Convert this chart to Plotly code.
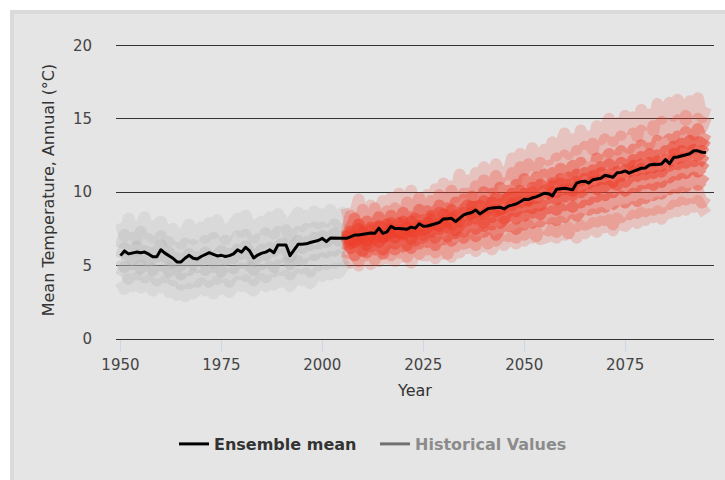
import plotly.graph_objects as go

# ---------------- data ----------------
years_mean = list(range(1950, 2096))
years_hist = list(range(1950, 2007))
years_proj = list(range(2006, 2096))

ensemble_mean = [
    5.68, 6.00, 5.80, 5.85, 5.92, 5.88, 5.92, 5.78, 5.60, 5.60,
    6.08, 5.85, 5.68, 5.50, 5.25, 5.25, 5.50, 5.70, 5.50, 5.45,
    5.62, 5.75, 5.88, 5.77, 5.66, 5.70, 5.62, 5.68, 5.80, 6.07,
    5.92, 6.25, 6.00, 5.52, 5.72, 5.85, 5.92, 6.07, 5.88, 6.40,
    6.42, 6.40, 5.68, 6.05, 6.45, 6.46, 6.48, 6.57, 6.62, 6.71,
    6.86, 6.63, 6.88, 6.86, 6.86, 6.86, 6.86, 6.95, 7.08, 7.08,
    7.12, 7.18, 7.22, 7.20, 7.55, 7.20, 7.30, 7.68, 7.52, 7.52,
    7.50, 7.48, 7.62, 7.55, 7.85, 7.68, 7.70, 7.75, 7.85, 7.95,
    8.18, 8.20, 8.22, 8.00, 8.25, 8.45, 8.55, 8.62, 8.79, 8.52,
    8.70, 8.88, 8.92, 8.95, 8.98, 8.86, 9.05, 9.12, 9.20, 9.35,
    9.52, 9.50, 9.62, 9.68, 9.82, 9.93, 9.90, 9.75, 10.20, 10.24,
    10.27, 10.22, 10.16, 10.62, 10.72, 10.75, 10.62, 10.85, 10.88, 10.95,
    11.15, 11.07, 11.02, 11.32, 11.35, 11.45, 11.30, 11.42, 11.55, 11.63,
    11.65, 11.85, 11.90, 11.88, 11.92, 12.22, 11.95, 12.36, 12.40, 12.47,
    12.52, 12.62, 12.82, 12.82, 12.72, 12.70,
]

# historical ensemble members (1950-2006)
hist_p = [7.9, 7.0, 8.2, 7.4, 6.8, 7.7, 8.3, 7.1, 6.9, 7.8,
          8.0, 7.2, 6.7, 7.5, 6.9, 6.5, 7.3, 7.8, 6.8, 7.1,
          7.6, 6.9, 7.9, 7.2, 8.1, 7.4, 6.8, 7.5, 7.9, 8.2,
          7.3, 8.4, 7.6, 6.9, 7.8, 8.0, 7.4, 8.3, 7.2, 8.5,
          8.1, 7.6, 7.0, 8.2, 8.6, 7.7, 8.4, 8.0, 8.7, 7.9,
          8.5, 8.0, 8.8, 8.3, 7.9, 8.6, 8.2]
hist_q = [6.2, 7.1, 6.5, 6.9, 6.0, 7.3, 6.4, 6.8, 6.1, 6.6,
          7.0, 6.3, 6.6, 5.9, 6.2, 5.8, 6.5, 6.1, 6.4, 5.7,
          6.3, 6.7, 6.0, 6.9, 6.4, 6.2, 6.7, 6.0, 6.5, 7.0,
          6.6, 7.1, 6.3, 6.0, 6.8, 6.5, 7.2, 6.7, 6.4, 7.3,
          7.0, 7.4, 6.4, 6.8, 7.3, 6.9, 7.5, 7.1, 7.6, 7.2,
          7.6, 7.0, 7.4, 7.8, 7.2, 7.5, 7.3]
hist_r = [5.5, 6.2, 5.8, 5.4, 6.3, 5.7, 6.0, 5.3, 5.9, 5.6,
          6.4, 5.6, 5.9, 5.2, 5.5, 5.0, 5.4, 5.8, 5.1, 5.6,
          5.3, 5.9, 5.6, 5.2, 5.7, 6.0, 5.4, 5.8, 5.5, 6.1,
          5.8, 6.3, 5.9, 5.3, 5.6, 6.1, 5.7, 6.2, 6.0, 6.4,
          6.5, 6.1, 5.6, 6.3, 6.7, 6.2, 6.6, 6.4, 6.9, 6.5,
          7.0, 6.6, 6.8, 7.2, 6.7, 7.0, 6.9]
hist_s = [5.4, 4.9, 5.6, 5.1, 5.7, 4.8, 5.3, 5.5, 4.7, 5.2,
          5.0, 5.6, 4.6, 5.2, 4.8, 4.4, 5.0, 4.7, 5.3, 4.9,
          5.1, 4.7, 5.4, 4.9, 5.2, 4.6, 5.0, 5.3, 4.8, 5.5,
          5.2, 5.6, 5.0, 4.7, 5.4, 5.1, 5.7, 5.3, 4.9, 5.8,
          5.6, 5.9, 5.1, 5.5, 6.0, 5.4, 5.8, 6.1, 5.7, 6.2,
          6.3, 5.9, 6.4, 6.0, 6.5, 6.2, 6.1]
hist_t = [4.3, 4.9, 4.1, 4.7, 4.4, 5.0, 4.2, 4.6, 4.8, 4.0,
          4.6, 4.2, 4.9, 4.0, 4.3, 3.7, 4.1, 3.8, 4.4, 3.9,
          4.2, 4.6, 3.9, 4.5, 4.1, 4.7, 4.3, 3.9, 4.6, 4.4,
          4.8, 4.3, 4.9, 4.0, 4.5, 4.7, 4.2, 4.9, 4.6, 5.0,
          4.7, 5.2, 4.4, 4.9, 5.3, 4.8, 5.1, 4.6, 5.4, 5.0,
          5.5, 5.1, 5.6, 5.2, 5.7, 5.3, 5.5]
hist_u = [3.9, 3.4, 4.1, 3.6, 4.2, 3.5, 3.8, 4.0, 3.3, 3.7,
          3.5, 3.9, 3.2, 3.6, 3.0, 3.3, 2.9, 3.4, 3.1, 3.5,
          3.8, 3.3, 3.6, 3.1, 3.9, 3.4, 3.7, 3.2, 3.5, 3.9,
          3.6, 4.0, 3.5, 3.3, 3.8, 4.1, 3.6, 4.0, 3.7, 4.2,
          3.9, 4.3, 3.6, 4.1, 4.4, 4.0, 4.5, 3.8, 4.2, 4.6,
          4.3, 4.7, 4.4, 4.8, 4.5, 4.9, 4.6]

# projected ensemble members (2006-2095)
proj_1 = [8.9, 7.6, 8.4, 9.5, 7.9, 8.7, 9.1, 7.8, 8.8, 9.4,
          8.0, 9.6, 8.7, 9.9, 8.3, 9.2, 10.1, 8.6, 9.5, 8.9,
          9.8, 8.6, 10.2, 9.4, 10.6, 9.0, 10.4, 9.7, 11.2, 10.0,
          10.8, 9.7, 11.3, 10.4, 11.7, 10.6, 10.2, 11.9, 10.9, 11.4,
          11.2, 12.3, 10.8, 12.6, 11.5, 12.1, 13.0, 11.7, 12.4, 12.9,
          12.2, 13.4, 12.5, 13.1, 14.0, 12.6, 13.6, 12.9, 14.2, 13.3,
          13.8, 12.9, 14.5, 13.6, 14.1, 15.0, 13.5, 14.7, 13.9, 15.2,
          14.3, 15.1, 13.8, 15.6, 14.6, 15.3, 14.2, 16.0, 15.0, 15.5,
          16.1, 15.2, 16.3, 15.6, 14.9, 16.2, 15.5, 16.4, 15.1, 15.8]
proj_2 = [7.2, 8.4, 7.9, 7.4, 8.8, 7.6, 8.2, 8.9, 7.5, 8.1,
          8.7, 7.6, 8.9, 8.3, 7.8, 9.3, 8.1, 8.8, 9.6, 8.0,
          8.3, 9.4, 8.9, 9.8, 8.5, 9.2, 10.1, 8.8, 9.6, 9.9,
          9.9, 9.1, 10.4, 9.6, 10.8, 9.5, 10.2, 11.1, 9.8, 10.6,
          10.2, 11.3, 10.6, 11.7, 10.8, 11.9, 11.1, 10.7, 12.0, 11.4,
          11.8, 11.0, 12.3, 11.6, 12.5, 11.9, 11.3, 12.8, 12.2, 13.1,
          12.5, 13.3, 12.4, 13.0, 13.6, 12.7, 13.4, 12.9, 13.8, 13.2,
          13.0, 14.0, 13.4, 14.2, 13.6, 13.3, 14.5, 13.9, 14.8, 14.1,
          14.6, 13.7, 14.9, 14.3, 15.2, 14.5, 13.9, 15.0, 14.4, 15.1]
proj_3 = [6.9, 7.7, 8.2, 6.8, 7.5, 8.0, 7.1, 7.9, 8.3, 7.0,
          7.6, 8.4, 7.3, 8.1, 8.6, 7.5, 8.3, 7.7, 8.8, 8.2,
          8.7, 7.9, 8.5, 9.1, 8.2, 8.9, 8.4, 9.3, 8.6, 9.5,
          8.8, 9.7, 9.2, 8.9, 10.0, 9.4, 9.9, 9.3, 10.3, 9.6,
          10.1, 9.6, 10.5, 10.0, 10.9, 10.3, 9.9, 11.0, 10.6, 11.2,
          10.5, 11.3, 10.9, 11.6, 10.7, 11.4, 11.8, 11.1, 12.0, 11.5,
          11.7, 11.2, 12.3, 11.8, 12.1, 12.6, 11.9, 12.4, 12.8, 12.2,
          12.0, 12.9, 12.5, 13.2, 12.7, 13.0, 12.4, 13.5, 12.9, 13.4,
          13.6, 12.9, 13.8, 13.4, 14.1, 13.3, 13.9, 14.3, 13.5, 14.0]
proj_4 = [7.4, 6.7, 7.0, 7.8, 6.9, 7.3, 7.6, 6.8, 7.7, 7.4,
          7.1, 7.9, 7.5, 7.2, 8.0, 7.7, 7.3, 8.2, 7.6, 8.1,
          7.9, 8.4, 7.8, 8.6, 8.3, 8.0, 8.8, 8.2, 8.5, 9.0,
          9.1, 8.5, 9.0, 8.7, 9.4, 8.9, 9.2, 9.6, 8.8, 9.5,
          9.3, 9.9, 9.5, 10.1, 9.8, 9.4, 10.3, 10.0, 10.5, 10.2,
          10.1, 10.6, 10.3, 10.9, 10.5, 11.0, 10.4, 11.2, 10.8, 11.3,
          11.0, 11.5, 11.2, 11.7, 11.3, 11.9, 11.4, 11.6, 12.0, 11.8,
          11.7, 12.2, 11.8, 12.4, 12.0, 12.6, 12.1, 12.5, 12.3, 12.8,
          12.6, 13.1, 12.8, 13.3, 12.9, 13.5, 13.0, 13.4, 13.2, 13.6]
proj_5 = [6.8, 7.3, 6.6, 7.5, 7.0, 6.7, 7.4, 7.1, 7.6, 6.9,
          7.8, 7.2, 7.6, 7.9, 7.1, 7.5, 8.0, 7.3, 7.7, 7.4,
          7.6, 8.2, 7.9, 7.7, 8.5, 8.1, 7.8, 8.4, 8.0, 8.6,
          8.4, 9.0, 8.6, 9.1, 8.5, 8.8, 9.3, 8.7, 9.2, 8.9,
          9.6, 9.1, 9.7, 9.3, 9.9, 9.5, 10.0, 9.6, 9.8, 10.1,
          9.9, 10.4, 10.0, 10.6, 10.2, 10.5, 10.1, 10.7, 10.3, 10.9,
          10.6, 11.1, 10.8, 11.3, 10.9, 11.2, 10.7, 11.4, 11.1, 11.5,
          11.4, 11.8, 11.5, 11.9, 11.6, 12.0, 11.7, 12.1, 11.8, 12.2,
          12.1, 12.6, 12.3, 12.8, 12.4, 12.7, 12.9, 12.5, 12.8, 12.6]
proj_6 = [7.2, 6.5, 7.0, 6.7, 7.3, 6.4, 6.9, 7.1, 6.6, 7.2,
          7.0, 7.5, 6.9, 7.4, 7.2, 7.6, 6.8, 7.3, 7.7, 7.1,
          7.9, 7.3, 7.8, 7.5, 8.0, 7.6, 8.2, 7.4, 7.9, 8.1,
          8.1, 8.6, 8.2, 8.4, 7.9, 8.7, 8.3, 8.8, 8.5, 8.2,
          8.8, 9.2, 8.7, 9.3, 9.0, 9.4, 8.9, 9.5, 9.1, 9.6,
          9.6, 10.0, 9.5, 10.1, 9.7, 10.2, 9.8, 10.4, 10.0, 10.3,
          10.3, 10.7, 10.2, 10.8, 10.4, 10.9, 10.6, 10.5, 11.0, 10.7,
          11.0, 11.4, 11.1, 11.6, 11.2, 11.5, 11.3, 11.7, 11.4, 11.8,
          11.8, 12.2, 11.9, 12.3, 12.0, 12.4, 12.1, 12.3, 12.2, 12.0]
proj_7 = [6.9, 6.2, 6.7, 6.4, 6.0, 6.8, 6.3, 6.9, 6.5, 6.1,
          6.6, 7.2, 6.5, 7.0, 6.8, 6.4, 7.3, 6.7, 7.1, 6.9,
          7.1, 7.6, 6.9, 7.4, 7.8, 7.0, 7.5, 7.2, 7.9, 7.3,
          7.6, 8.2, 7.5, 8.0, 7.7, 8.3, 7.8, 8.4, 7.9, 8.1,
          8.3, 8.7, 8.2, 8.8, 8.4, 8.9, 8.6, 9.0, 8.5, 9.1,
          8.9, 9.4, 8.8, 9.5, 9.1, 9.6, 9.0, 9.7, 9.3, 9.8,
          9.5, 10.1, 9.7, 10.3, 9.8, 10.4, 10.0, 10.2, 10.6, 10.1,
          10.3, 10.8, 10.4, 10.9, 10.6, 11.0, 10.5, 11.1, 10.7, 11.2,
          11.0, 11.5, 11.2, 11.7, 11.3, 11.6, 11.8, 11.4, 11.7, 11.5]
proj_8 = [6.0, 6.6, 5.7, 6.4, 6.8, 5.9, 6.5, 6.1, 6.9, 5.8,
          6.4, 6.9, 6.1, 6.7, 6.3, 7.0, 6.2, 6.8, 6.5, 7.1,
          6.6, 7.2, 6.4, 7.3, 6.8, 7.5, 6.7, 7.1, 7.4, 6.9,
          7.2, 7.7, 7.0, 7.8, 7.3, 7.5, 7.9, 7.1, 7.6, 8.0,
          7.7, 8.2, 7.5, 8.3, 7.8, 8.4, 7.9, 8.5, 8.0, 8.6,
          8.2, 8.7, 8.1, 8.9, 8.3, 8.6, 9.0, 8.4, 8.8, 9.1,
          8.8, 9.3, 8.9, 9.5, 9.0, 9.6, 9.2, 9.4, 9.7, 9.3,
          9.5, 9.9, 9.4, 10.1, 9.6, 10.2, 9.8, 10.3, 9.9, 10.4,
          10.2, 10.7, 10.3, 10.9, 10.4, 10.8, 11.0, 10.5, 10.8, 10.6]
proj_9 = [5.5, 6.2, 5.8, 5.3, 6.1, 5.7, 6.3, 5.4, 6.0, 5.9,
          6.3, 5.7, 6.4, 5.9, 6.6, 5.6, 6.2, 6.5, 5.8, 6.4,
          6.1, 6.7, 5.9, 6.6, 6.2, 5.8, 6.8, 6.3, 6.9, 6.5,
          6.6, 7.1, 6.4, 7.2, 6.9, 6.5, 7.3, 6.7, 7.0, 7.4,
          7.0, 7.5, 6.9, 7.6, 7.1, 7.8, 7.3, 7.0, 7.7, 7.4,
          7.4, 7.9, 7.3, 8.0, 7.6, 7.2, 8.1, 7.7, 8.2, 7.8,
          7.9, 8.5, 8.0, 8.6, 8.1, 8.4, 7.8, 8.7, 8.3, 8.8,
          8.5, 9.0, 8.6, 9.2, 8.7, 9.1, 8.8, 9.3, 8.9, 9.4,
          9.2, 9.8, 9.4, 10.0, 9.5, 9.9, 9.6, 10.1, 9.3, 9.7]
proj_10 = [5.8, 5.2, 5.6, 5.0, 5.9, 5.4, 5.1, 5.7, 5.3, 5.6,
           5.5, 6.0, 5.3, 5.9, 5.6, 6.1, 5.2, 5.8, 6.2, 5.7,
           5.7, 6.3, 5.5, 6.1, 5.8, 6.4, 5.6, 6.2, 5.9, 6.5,
           6.2, 6.7, 6.0, 6.6, 6.3, 6.9, 6.1, 6.5, 6.8, 6.4,
           6.6, 7.0, 6.5, 7.2, 6.7, 7.1, 6.9, 7.3, 6.8, 7.0,
           7.0, 7.5, 6.9, 7.4, 7.1, 7.6, 7.3, 6.9, 7.7, 7.2,
           7.5, 7.9, 7.3, 8.0, 7.6, 8.1, 7.4, 8.2, 7.8, 7.7,
           8.0, 8.4, 7.9, 8.6, 8.1, 8.5, 8.3, 8.7, 8.2, 8.6,
           8.6, 9.1, 8.7, 9.3, 8.8, 9.2, 9.0, 9.4, 8.9, 8.5]

x_tick_vals = [1950, 1975, 2000, 2025, 2050, 2075]
y_tick_vals = [0, 5, 10, 15, 20]

hist_members = [hist_p, hist_q, hist_r, hist_s, hist_t, hist_u]
proj_members = [proj_1, proj_2, proj_3, proj_4, proj_5,
                proj_6, proj_7, proj_8, proj_9, proj_10]

# ---------------- figure ----------------
FONT = "DejaVu Sans, Verdana, sans-serif"
fig = go.Figure()

hist_alpha = [0.24, 0.32, 0.36, 0.36, 0.32, 0.24]
for m, a in zip(hist_members, hist_alpha):
    fig.add_trace(go.Scatter(
        x=years_hist, y=m, mode="lines", showlegend=False, hoverinfo="skip",
        opacity=a, line=dict(color="#b4b4b4", width=12)))

proj_alpha = [0.2, 0.26, 0.42, 0.5, 0.5, 0.5, 0.5, 0.42, 0.26, 0.2]
for m, a in zip(proj_members, proj_alpha):
    fig.add_trace(go.Scatter(
        x=years_proj, y=m, mode="lines", showlegend=False, hoverinfo="skip",
        opacity=a, line=dict(color="#ee3e2a", width=12)))

fig.add_trace(go.Scatter(
    x=years_mean, y=ensemble_mean, mode="lines", name="<b>Ensemble mean</b>",
    legendrank=1, line=dict(color="#000000", width=3)))

fig.add_trace(go.Scatter(
    x=[None], y=[None], mode="lines", name="<b>Historical Values</b>",
    legendrank=2, visible="legendonly", line=dict(color="#000000", width=3)))

W, H = 725, 480
ml, mr, mt, mb = 116, 11, 41, 141
pw, ph = W - ml - mr, H - mt - mb

def px_x(p):
    return (p - ml) / pw

def px_y(p):
    return (H - mb - p) / ph

fig.add_shape(type="rect", xref="paper", yref="paper", layer="below",
              x0=px_x(12), x1=px_x(740), y0=px_y(495), y1=px_y(12),
              fillcolor="#e5e5e5", line=dict(color="#dadada", width=4))

fig.update_layout(
    width=W, height=H,
    margin=dict(l=ml, r=mr, t=mt, b=mb, autoexpand=False),
    paper_bgcolor="#ffffff",
    plot_bgcolor="rgba(0,0,0,0)",
    font=dict(family=FONT, size=15, color="#333333"),
    showlegend=True,
    legend=dict(orientation="h", x=px_x(174), xanchor="left",
                y=px_y(444), yanchor="middle",
                font=dict(size=16, color="#333333"),
                bgcolor="rgba(0,0,0,0)", itemwidth=30,
                entrywidth=156, entrywidthmode="pixels"),
    xaxis=dict(range=[1948.9, 2097], tickvals=x_tick_vals,
               showgrid=False, zeroline=False,
               showline=True, linecolor="#333333", linewidth=1,
               ticks="outside", ticklen=12, tickcolor="#ccd6eb", tickwidth=1,
               tickfont=dict(size=15, color="#444444"),
               title=dict(text="Year", font=dict(size=16, color="#333333"), standoff=11)),
    yaxis=dict(range=[0, 20.3], tickvals=y_tick_vals,
               showgrid=True, gridcolor="#333333", gridwidth=1,
               zeroline=False, showline=False,
               ticks="outside", ticklen=20, tickcolor="rgba(0,0,0,0)",
               tickfont=dict(size=15, color="#444444"),
               title=dict(text="Mean Temperature, Annual (°C)",
                          font=dict(size=16, color="#333333"), standoff=14)),
)

post = """
document.body.style.margin = '0';
document.body.style.padding = '0';
var st = document.createElement('style');
st.innerHTML = '.scatterlayer path.js-line{stroke-linejoin:round !important;}';
document.head.appendChild(st);
"""

fig.write_html("out.html", post_script=post, config={"displayModeBar": False})
